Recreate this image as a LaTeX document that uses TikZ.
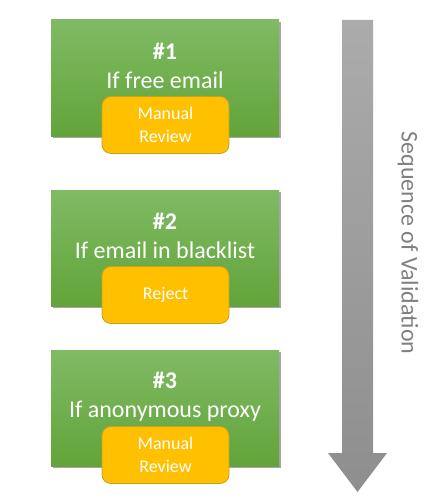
\documentclass[tikz,border=0pt]{standalone}
\usepackage{fontspec}
\setmainfont{Carlito}
\usetikzlibrary{shadows}
\definecolor{gtop}{HTML}{80BA64}
\definecolor{gbot}{HTML}{62A43A}
\definecolor{orfill}{HTML}{FFC000}
\definecolor{ordraw}{HTML}{C9A020}
\definecolor{atop}{HTML}{ABABAB}
\definecolor{abot}{HTML}{8E8E8E}
\definecolor{seqtext}{HTML}{808080}
\tikzset{
  greenbox/.style={rectangle, minimum width=228pt, minimum height=116pt, inner sep=0pt,
    top color=gtop, bottom color=gbot, draw=none,
    drop shadow={shadow xshift=1.5pt, shadow yshift=-2pt, fill=black, opacity=0.35}},
  orangebox/.style={rectangle, rounded corners=9pt, minimum width=127pt, minimum height=57pt,
    inner sep=0pt, fill=orfill, draw=ordraw, line width=0.8pt, text=white,
    font=\fontsize{18}{23}\selectfont, align=center},
  title/.style={text=white, font=\fontsize{24}{29}\selectfont, align=center, inner sep=0pt}
}
\begin{document}
\begin{tikzpicture}[x=1pt,y=-1pt]
\useasboundingbox (0,0) rectangle (440,500);
% green boxes
\node[greenbox] (g1) at (165,78) {};
\node[greenbox] (g2) at (165,248) {};
\node[greenbox] (g3) at (165,408) {};
% titles
\node[title] (t1) at (165,66) {\textbf{\#1}\\If free email};
\node[title] (t2) at (165,236) {\textbf{\#2}\\If email in blacklist};
\node[title] (t3) at (165,397) {\textbf{\#3}\\If anonymous proxy};
% orange boxes
\node[orangebox] (o1) at (165.5,125) {Manual\\Review};
\node[orangebox] (o2) at (165.5,295) {Reject};
\node[orangebox] (o3) at (165.5,455) {Manual\\Review};
% arrow
\shade[top color=atop, bottom color=abot]
  (342,20) -- (373,20) -- (373,453) -- (387,453) -- (357.5,492) -- (328,453) -- (342,453) -- cycle;
\node[rotate=-90, text=seqtext, font=\fontsize{24}{29}\selectfont, inner sep=0pt] (seq) at (408,243) {Sequence of Validation};
\end{tikzpicture}
\end{document}
